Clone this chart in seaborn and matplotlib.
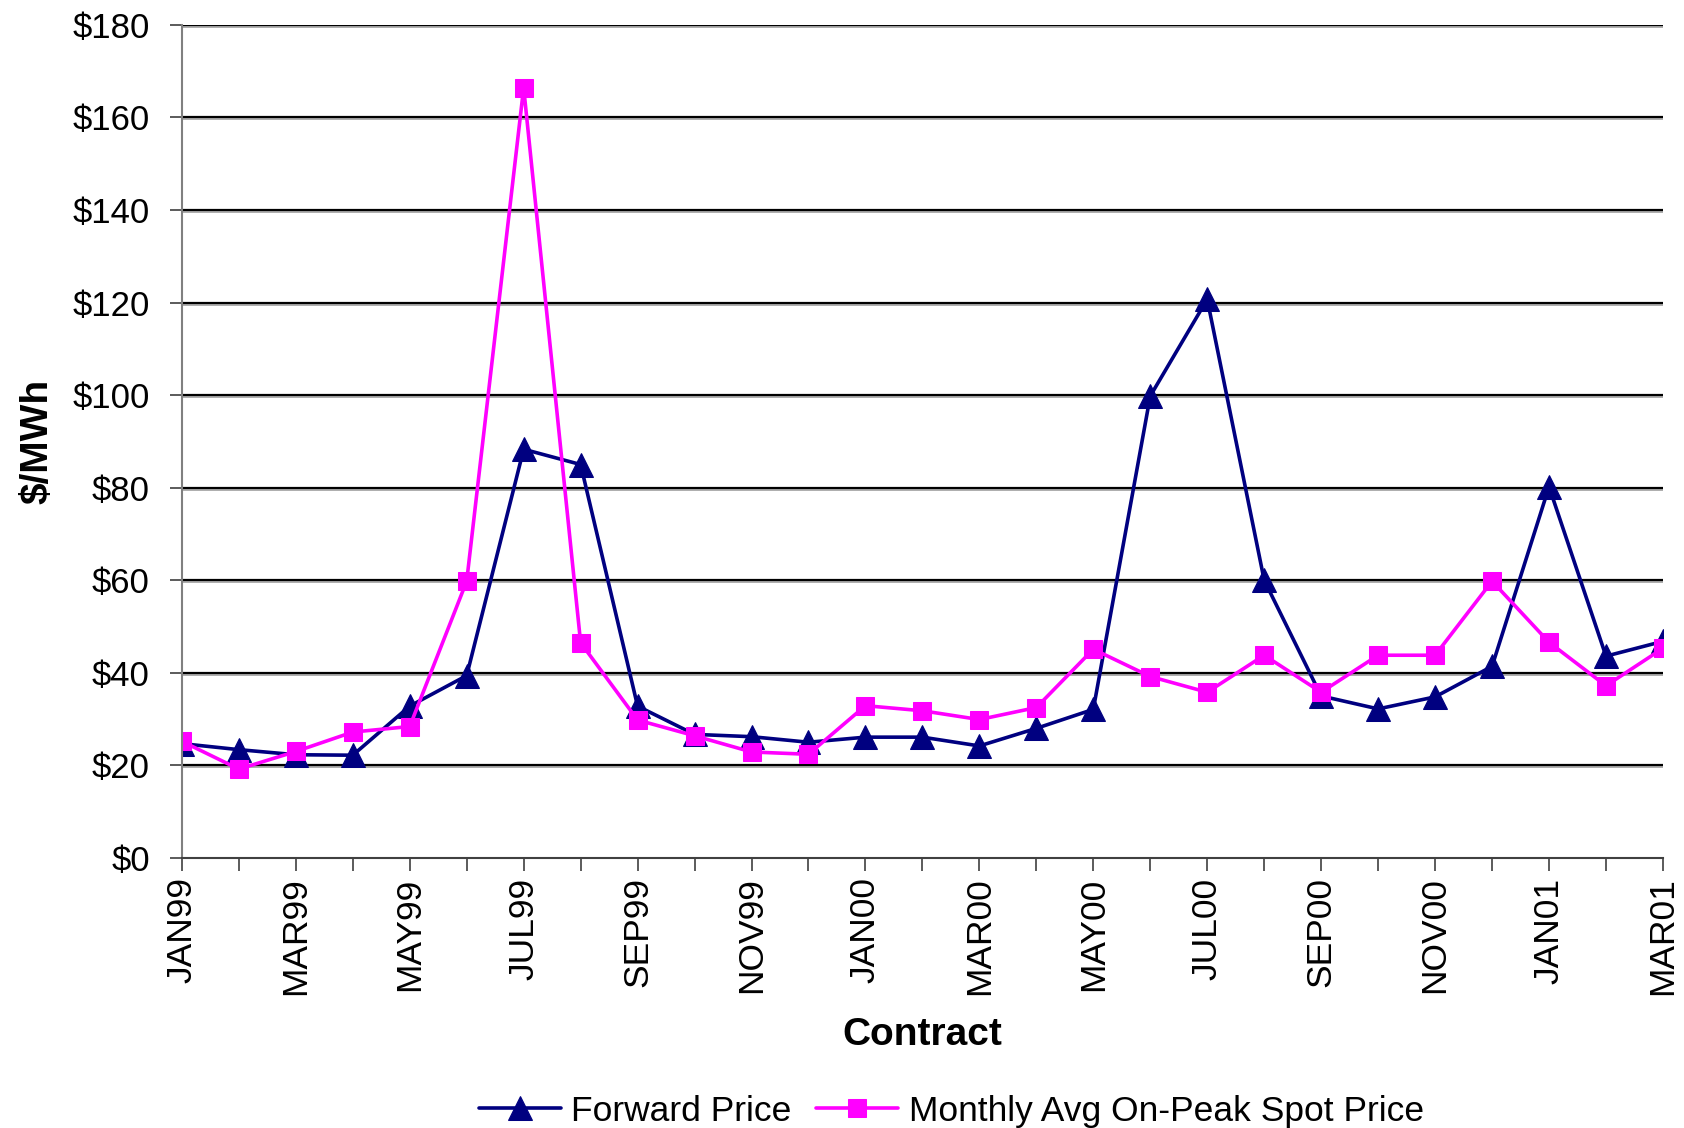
import pandas as pd
import matplotlib
matplotlib.use('Agg')
import matplotlib.pyplot as plt
import seaborn as sns

# Contract months, Jan 1999 .. Mar 2001
months = ['JAN99', 'FEB99', 'MAR99', 'APR99', 'MAY99', 'JUN99', 'JUL99', 'AUG99', 'SEP99',
          'OCT99', 'NOV99', 'DEC99', 'JAN00', 'FEB00', 'MAR00', 'APR00', 'MAY00', 'JUN00',
          'JUL00', 'AUG00', 'SEP00', 'OCT00', 'NOV00', 'DEC00', 'JAN01', 'FEB01', 'MAR01']

forward_price = [24.7, 23.4, 22.3, 22.2, 32.8, 39.4, 88.3, 85.0, 32.8,
                 26.7, 26.2, 25.0, 26.1, 26.1, 24.2, 28.0, 32.1, 99.8,
                 120.7, 60.0, 35.0, 32.2, 34.8, 41.4, 80.2, 43.6, 46.8]

spot_price = [25.2, 19.2, 23.0, 27.2, 28.4, 59.8, 166.4, 46.5, 29.8,
              26.4, 22.9, 22.4, 32.9, 31.8, 29.9, 32.5, 45.1, 39.2,
              35.8, 43.8, 35.8, 43.8, 43.8, 59.8, 46.6, 37.2, 45.3]

y_ticks = list(range(0, 181, 20))
y_labels = ['$' + str(v) for v in y_ticks]

df = pd.DataFrame({'pos': range(len(months)), 'month': months,
                   'Forward Price': forward_price,
                   'Monthly Avg On-Peak Spot Price': spot_price})

sns.set_style('white')
plt.rcParams['font.family'] = ['Liberation Sans', 'DejaVu Sans']
plt.rcParams['text.color'] = 'black'
plt.rcParams['axes.labelcolor'] = 'black'
plt.rcParams['xtick.color'] = 'black'
plt.rcParams['ytick.color'] = 'black'

fig = plt.figure(figsize=(16.84, 11.28), dpi=100)
ax = fig.add_axes([0.108, 0.2394, 0.8795, 0.7386])

sns.lineplot(data=df, x='pos', y='Forward Price', ax=ax, color='#000080', lw=2.6,
             marker='^', markersize=17, markeredgecolor='#000080', label='Forward Price')
sns.lineplot(data=df, x='pos', y='Monthly Avg On-Peak Spot Price', ax=ax, color='#FF00FF', lw=2.6,
             marker='s', markersize=13.5, markeredgecolor='#FF00FF',
             label='Monthly Avg On-Peak Spot Price')

ax.set_xlim(0, len(months) - 1)
ax.set_ylim(0, 180)
ax.set_yticks(y_ticks)
ax.set_yticklabels(y_labels, fontsize=25)
ax.set_xticks(range(len(months)))
ax.set_xticklabels([m if i % 2 == 0 else '' for i, m in enumerate(months)],
                   rotation=90, fontsize=25.5)
ax.tick_params(axis='both', direction='out', length=9, width=1.2, color='#404040',
               left=True, bottom=True)
ax.tick_params(axis='y', pad=14)
ax.tick_params(axis='x', pad=5)

# excel style gridlines
for v in y_ticks[1:]:
    ax.axhline(v, color='black', lw=1.6, zorder=0.5)
    ax.axhline(v - 0.45, color='#a0a0a0', lw=1.2, zorder=0.4)

for s in ['top', 'right']:
    ax.spines[s].set_visible(False)
ax.spines['left'].set_color('#808080')
ax.spines['left'].set_linewidth(1.5)
ax.spines['bottom'].set_color('#404040')
ax.spines['bottom'].set_linewidth(1.5)

ax.set_xlabel('Contract', fontsize=28, fontweight='bold', labelpad=16)
ax.set_ylabel('$/MWh', fontsize=28, fontweight='bold', labelpad=12)

ax.legend(loc='lower center', bbox_to_anchor=(0.565, -0.028), bbox_transform=fig.transFigure,
          ncol=2, frameon=False, fontsize=25.5, handlelength=2.3, columnspacing=0.7,
          handletextpad=0.3)

fig.savefig('out.png', dpi=100)
